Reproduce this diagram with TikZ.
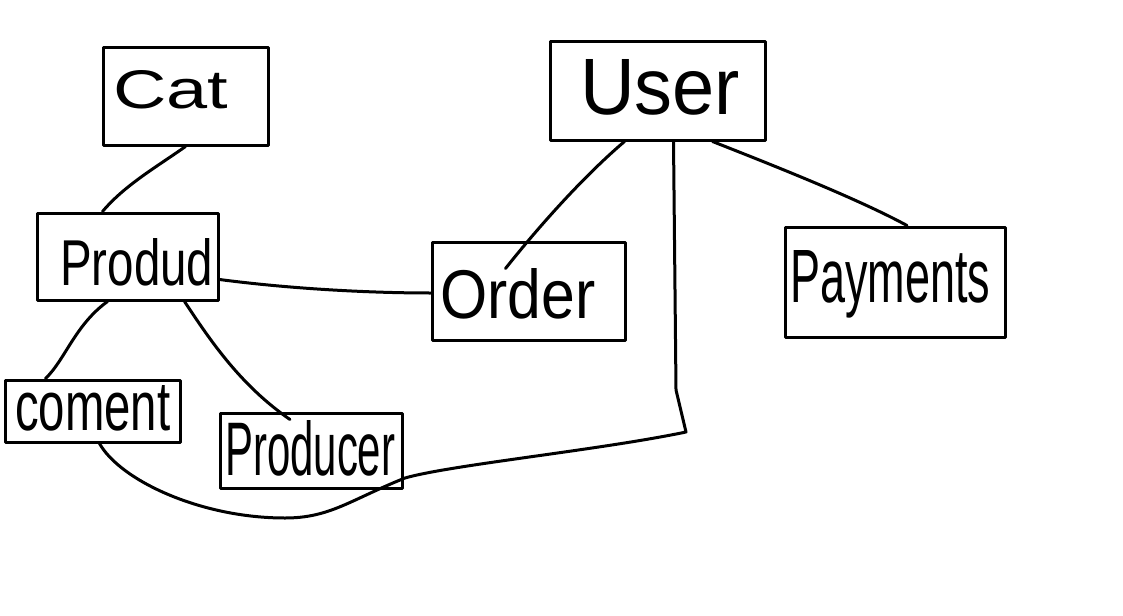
\documentclass[tikz,border=0pt]{standalone}
\usepackage{fontspec}
\setmainfont{Liberation Sans}
\usepackage{graphicx}
\usetikzlibrary{calc}
\begin{document}
\begin{tikzpicture}[x=1pt,y=-1pt,
  ink/.style={line width=3pt, line cap=round, line join=round, black},
  box/.style={draw, ink, inner sep=0pt, rectangle},
  lbl/.style={anchor=base west, inner sep=0pt},
  wire/.style={ink}]
\useasboundingbox[fill=white] (0,0) rectangle (1123,615);

% boxes
\node[box, minimum width=165pt, minimum height=97pt]  (cat)      at (185.5,96.5) {};
\node[box, minimum width=215pt, minimum height=98pt]  (user)     at (657.5,91)   {};
\node[box, minimum width=181pt, minimum height=87pt]  (prod)     at (127.5,256.5){};
\node[box, minimum width=193pt, minimum height=98pt]  (order)    at (528.5,291)  {};
\node[box, minimum width=220pt, minimum height=110pt] (pay)      at (895,282)    {};
\node[box, minimum width=175pt, minimum height=62pt]  (coment)   at (92.5,411)   {};
\node[box, minimum width=182pt, minimum height=75pt]  (producer) at (311,450.5)  {};

% labels
\node[lbl] (catl)      at (113,108) {\resizebox{115pt}{38pt}{Cat}};
\node[lbl] (userl)     at (580,115) {\resizebox{160pt}{55pt}{User}};
\node[lbl] (prodl)     at (60,285)  {\resizebox{153pt}{47pt}{Produd}};
\node[lbl] (orderl)    at (440,318) {\resizebox{155pt}{50pt}{Order}};
\node[lbl] (payl)      at (790,302) {\resizebox{200pt}{52pt}{Payments}};
\node[lbl] (comentl)   at (15,430)  {\resizebox{155pt}{45pt}{coment}};
\node[lbl] (producerl) at (225,475) {\resizebox{170pt}{55pt}{Producer}};

% connectors
\draw[wire] (cat.south) .. controls (155,168) and (125,185) .. ([xshift=-25pt]prod.north);
\draw[wire] ([yshift=-23pt]prod.east) .. controls (300,290) and (380,293) .. ([yshift=-2pt]order.west);
\draw[wire] ([xshift=-33pt]user.south) .. controls (585,175) and (540,225) .. ([xshift=-23pt,yshift=-28pt]order.north);
\draw[wire] ([xshift=55pt]user.south) .. controls (780,168) and (860,200) .. ([xshift=12pt]pay.north);
\draw[wire] ([xshift=-20pt]prod.south) .. controls (75,325) and (65,360) .. ([xshift=-47pt]coment.north);
\draw[wire] ([xshift=57pt]prod.south) .. controls (210,340) and (240,385) .. ([xshift=-21pt,yshift=-8pt]producer.north);
\draw[wire] ([xshift=16pt]user.south) -- (676,390) -- (686,432)
  .. controls (600,450) and (450,465) .. (405,478)
  .. controls (350,500) and (330,518) .. (285,518)
  .. controls (200,518) and (120,480) .. ([xshift=7pt]coment.south);
\end{tikzpicture}
\end{document}
